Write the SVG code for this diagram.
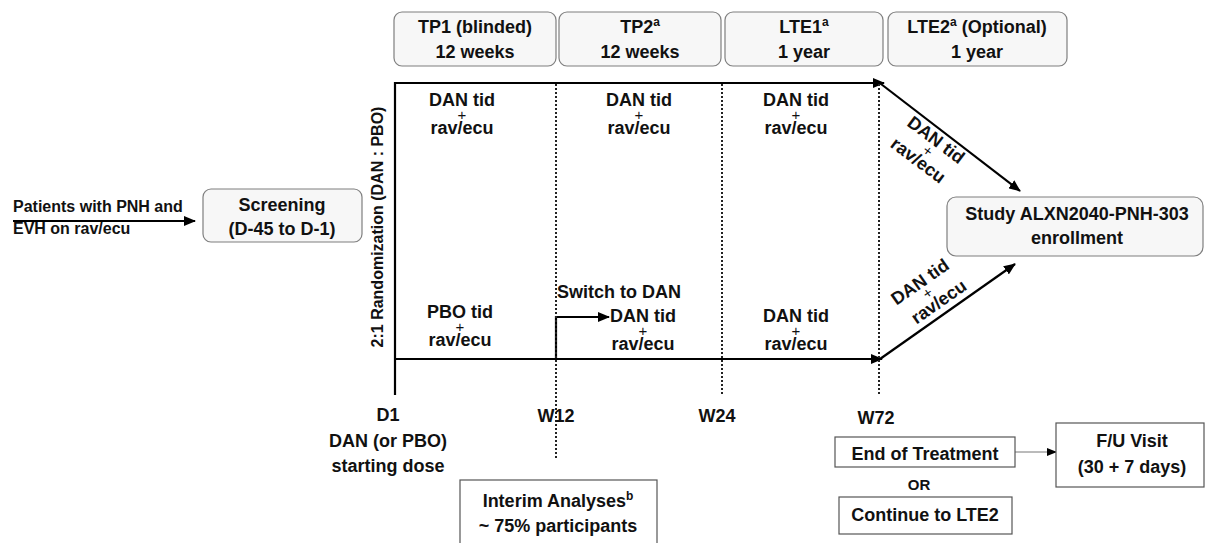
<svg xmlns="http://www.w3.org/2000/svg" width="1205" height="543" viewBox="0 0 1205 543">
<style>
text{font-family:"Liberation Sans",Arial,sans-serif;font-weight:bold;fill:#111;}
.c{text-anchor:middle;}
.h{font-size:18px;}
.b{font-size:18px;}
.p{font-size:15px;font-weight:normal;}
.s{font-size:15px;}
.pt{font-size:16px;}
.rbox{fill:#f7f7f7;stroke:#7f7f7f;stroke-width:1.2;}
.sbox{fill:#fff;stroke:#555;stroke-width:1.2;}
.line{fill:none;stroke:#000;stroke-width:2.2;}
.dot{fill:none;stroke:#222;stroke-width:2;stroke-dasharray:2 2;}
</style>
<defs>
<marker id="ah" markerUnits="userSpaceOnUse" markerWidth="12" markerHeight="10" refX="11" refY="5" orient="auto">
<path d="M0,0 L12,5 L0,10 z" fill="#000"/>
</marker>
<marker id="ahs" markerUnits="userSpaceOnUse" markerWidth="10" markerHeight="8" refX="9" refY="4" orient="auto">
<path d="M0,0 L10,4 L0,8 z" fill="#000"/>
</marker>
</defs>

<g id="connectors">
<line class="line" x1="13" y1="221" x2="195" y2="221" marker-end="url(#ah)"/>
<line class="line" x1="395" y1="82" x2="395" y2="395"/>
<line class="line" x1="394" y1="83" x2="884" y2="83" marker-end="url(#ah)"/>
<line class="line" x1="394" y1="359" x2="882" y2="359" marker-end="url(#ah)"/>
<line class="line" x1="881" y1="84" x2="1020" y2="191" marker-end="url(#ah)"/>
<line class="line" x1="880" y1="359" x2="1015" y2="264" marker-end="url(#ah)"/>
<path class="line" d="M556,359 V317 H609" marker-end="url(#ah)"/>
<line class="dot" x1="556" y1="84" x2="556" y2="460"/>
<line class="dot" x1="722" y1="84" x2="722" y2="395"/>
<line class="dot" x1="879" y1="84" x2="879" y2="394"/>
<line x1="1015" y1="452" x2="1056" y2="452" stroke="#777" stroke-width="1" marker-end="url(#ahs)"/>
</g>

<g id="tp1">
<rect class="rbox" x="394" y="12" width="162" height="54" rx="8"/>
<text class="h c" x="475" y="33">TP1 (blinded)</text>
<text class="h c" x="475" y="58">12 weeks</text>
</g>
<g id="tp2">
<rect class="rbox" x="559" y="12" width="162" height="54" rx="8"/>
<text class="h c" x="640" y="33">TP2<tspan font-size="12" dy="-7">a</tspan></text>
<text class="h c" x="640" y="58">12 weeks</text>
</g>
<g id="lte1">
<rect class="rbox" x="725" y="12" width="158" height="54" rx="8"/>
<text class="h c" x="804" y="33">LTE1<tspan font-size="12" dy="-7">a</tspan></text>
<text class="h c" x="804" y="58">1 year</text>
</g>
<g id="lte2">
<rect class="rbox" x="888" y="12" width="179" height="54" rx="8"/>
<text class="h c" x="977" y="33">LTE2<tspan font-size="12" dy="-7">a</tspan><tspan dy="7"> (Optional)</tspan></text>
<text class="h c" x="977" y="58">1 year</text>
</g>

<g id="patients">
<text class="pt" x="13" y="212">Patients with PNH and</text>
<text class="pt" x="13" y="234">EVH on rav/ecu</text>
</g>

<g id="screening">
<rect class="rbox" x="203" y="189" width="159" height="53" rx="8"/>
<text class="h c" x="282" y="211">Screening</text>
<text class="h c" x="282" y="235">(D-45 to D-1)</text>
</g>

<g id="randomization">
<text class="c" font-size="16" transform="translate(383,227) rotate(-90)">2:1 Randomization (DAN : PBO)</text>
</g>

<g id="arm1-tp1">
<text class="b c" x="462" y="106">DAN tid</text>
<text class="p c" x="462" y="120">+</text>
<text class="b c" x="462" y="134">rav/ecu</text>
</g>
<g id="arm1-tp2">
<text class="b c" x="639" y="106">DAN tid</text>
<text class="p c" x="639" y="120">+</text>
<text class="b c" x="639" y="134">rav/ecu</text>
</g>
<g id="arm1-lte1">
<text class="b c" x="796" y="106">DAN tid</text>
<text class="p c" x="796" y="120">+</text>
<text class="b c" x="796" y="134">rav/ecu</text>
</g>
<g id="arm2-tp1">
<text class="b c" x="460" y="318">PBO tid</text>
<text class="p c" x="460" y="332">+</text>
<text class="b c" x="460" y="346">rav/ecu</text>
</g>
<g id="switch">
<text class="b" x="557" y="298">Switch to DAN</text>
</g>
<g id="arm2-tp2">
<text class="b c" x="643" y="322">DAN tid</text>
<text class="p c" x="643" y="336">+</text>
<text class="b c" x="643" y="350">rav/ecu</text>
</g>
<g id="arm2-lte1">
<text class="b c" x="796" y="322">DAN tid</text>
<text class="p c" x="796" y="336">+</text>
<text class="b c" x="796" y="350">rav/ecu</text>
</g>

<g id="diag-top" transform="translate(936,140) rotate(37)">
<text class="b c" dominant-baseline="central" x="0" y="0">DAN tid</text>
<text class="p c" dominant-baseline="central" x="0" y="13">+</text>
<text class="b c" dominant-baseline="central" x="-2" y="27">rav/ecu</text>
</g>
<g id="diag-bottom" transform="translate(920,282) rotate(-35)">
<text class="b c" dominant-baseline="central" x="0" y="0">DAN tid</text>
<text class="p c" dominant-baseline="central" x="0" y="13">+</text>
<text class="b c" dominant-baseline="central" x="4" y="27">rav/ecu</text>
</g>

<g id="study">
<rect class="rbox" x="947" y="197" width="256" height="59" rx="9"/>
<text class="h c" x="1077" y="220">Study ALXN2040-PNH-303</text>
<text class="h c" x="1077" y="244">enrollment</text>
</g>

<g id="d1">
<text class="b c" x="388" y="421">D1</text>
<text class="b c" x="388" y="447">DAN (or PBO)</text>
<text class="b c" x="388" y="472">starting dose</text>
</g>
<g id="w12"><text class="b c" x="556" y="422">W12</text></g>
<g id="w24"><text class="b c" x="717" y="422">W24</text></g>
<g id="w72"><text class="b c" x="876" y="424">W72</text></g>

<g id="interim">
<rect class="sbox" x="460" y="480" width="197" height="70"/>
<text class="b c" x="558" y="507">Interim Analyses<tspan font-size="12" dy="-7">b</tspan></text>
<text class="b c" x="558" y="532">~ 75% participants</text>
</g>

<g id="eot">
<rect class="sbox" x="835" y="437" width="180" height="30"/>
<text class="b c" x="925" y="460">End of Treatment</text>
</g>
<g id="or"><text class="s c" x="919" y="490">OR</text></g>
<g id="continue">
<rect class="sbox" x="839" y="497" width="173" height="37"/>
<text class="b c" x="925" y="521">Continue to LTE2</text>
</g>
<g id="fu">
<rect class="sbox" x="1056" y="423" width="148" height="64"/>
<text class="b c" x="1132" y="447">F/U Visit</text>
<text class="b c" x="1132" y="473">(30 + 7 days)</text>
</g>
</svg>
